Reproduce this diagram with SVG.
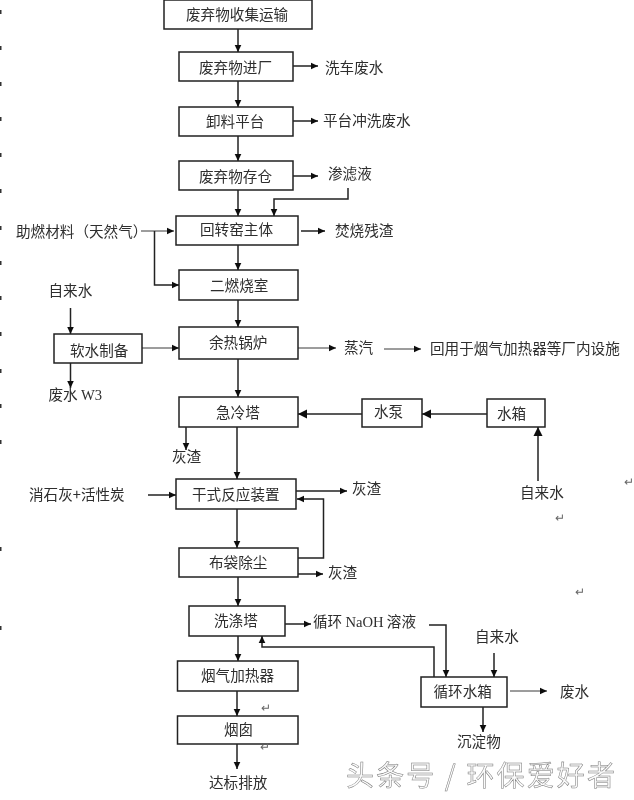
<svg xmlns="http://www.w3.org/2000/svg" width="634" height="800" viewBox="0 0 634 800">
<style>
rect.b{fill:#fff;stroke:#222;stroke-width:1.5}
text{font-family:"Noto Sans CJK SC","Liberation Sans",sans-serif;font-size:14.6px;fill:#2e2e2e}
.c path{fill:none;stroke:#222;stroke-width:1.5}
.c path.a{marker-end:url(#ah)}
.c path.t{stroke-width:.9;marker-end:url(#ah)}
.c path.h{stroke-width:1.5;marker-end:url(#big)}
.l text{font-size:12px;fill:#666}
.wm{font-size:28px;fill:#fafafa;stroke:#777;stroke-width:.5}
.m{fill:#333}
.s{font-family:"Liberation Serif",serif}
</style>
<defs>
<marker id="ah" markerUnits="userSpaceOnUse" markerWidth="8" markerHeight="8" refX="7" refY="4" orient="auto"><path d="M0 .7L7 4L0 7.3z" fill="#111"/></marker>
<marker id="big" markerUnits="userSpaceOnUse" markerWidth="10" markerHeight="10" refX="9" refY="5" orient="auto"><path d="M0 .5L9 5L0 9.500z" fill="#111"/></marker>
<filter id="soft" x="-5%" y="-5%" width="110%" height="110%"><feGaussianBlur stdDeviation="0.5"/></filter>
<filter id="wmf" x="-5%" y="-5%" width="110%" height="110%"><feGaussianBlur stdDeviation="0.2"/></filter>
</defs>
<rect width="634" height="800" fill="#fff"/>
<g filter="url(#soft)">
<g id="connectors" class="c">
<path class="a" d="M238 29V52"/>
<path class="a" d="M238 81V107"/>
<path class="a" d="M238 136V161"/>
<path class="a" d="M238 190V216"/>
<path class="a" d="M238 245V270"/>
<path class="a" d="M238 300V327"/>
<path class="a" d="M238 359V397"/>
<path class="a" d="M293 66H318"/>
<path class="a" d="M293 121H318"/>
<path class="a" d="M293 176H318"/>
<path class="a" d="M348 188V199H274V216"/>
<path class="a" d="M301 231H325"/>
<path class="t" d="M141 231H174"/>
<path class="a" d="M154.500 231V285H179"/>
<path class="a" d="M70.500 308V334"/>
<path class="t" d="M142 348H179"/>
<path class="a" d="M70.500 363V388"/>
<path class="t" d="M298 348H336"/>
<path class="t" d="M384 349H421"/>
<path class="h" d="M487 414H422"/>
<path class="h" d="M362 414H298"/>
<path class="h" d="M538 481V427"/>
<path class="a" d="M186 427V450"/>
<path class="a" d="M237 427V479"/>
<path class="a" d="M148 495H176"/>
<path class="a" d="M296 491H347"/>
<path class="a" d="M298 558H323.500V499H297"/>
<path class="a" d="M237 509V548"/>
<path class="a" d="M298 574H323"/>
<path class="a" d="M238 577V606"/>
<path class="a" d="M285 624H311"/>
<path class="a" d="M429 625H446V677"/>
<path class="a" d="M434 677V647H262V636"/>
<path class="a" d="M494 653V677"/>
<path class="t" d="M510 691H547"/>
<path class="a" d="M483 707V732"/>
<path class="a" d="M238 636V661"/>
<path class="a" d="M237 691V716"/>
<path class="a" d="M237 744V769"/>
</g>
<g id="n1"><rect class="b" x="164" y="0" width="148" height="29"/><text x="186" y="20">废弃物收集运输</text></g>
<g id="n2"><rect class="b" x="179" y="52" width="114" height="29"/><text x="199" y="73">废弃物进厂</text></g>
<g id="n3"><rect class="b" x="179" y="107" width="114" height="29"/><text x="206" y="127">卸料平台</text></g>
<g id="n4"><rect class="b" x="179" y="161" width="114" height="29"/><text x="199" y="182">废弃物存仓</text></g>
<g id="n5"><rect class="b" x="176" y="216" width="122" height="29"/><text x="200" y="235">回转窑主体</text></g>
<g id="n6"><rect class="b" x="179" y="270" width="119" height="30"/><text x="210" y="291">二燃烧室</text></g>
<g id="n7"><rect class="b" x="179" y="327" width="119" height="32"/><text x="209" y="348">余热锅炉</text></g>
<g id="n8"><rect class="b" x="54" y="334" width="88" height="29"/><text x="70" y="356">软水制备</text></g>
<g id="n9"><rect class="b" x="179" y="397" width="119" height="30"/><text x="216" y="418">急冷塔</text></g>
<g id="n10"><rect class="b" x="362" y="399" width="60" height="28"/><text x="374" y="417">水泵</text></g>
<g id="n11"><rect class="b" x="487" y="399" width="58" height="28"/><text x="497" y="419">水箱</text></g>
<g id="n12"><rect class="b" x="176" y="479" width="120" height="30"/><text x="192" y="500">干式反应装置</text></g>
<g id="n13"><rect class="b" x="179" y="548" width="119" height="29"/><text x="209" y="568">布袋除尘</text></g>
<g id="n14"><rect class="b" x="189" y="606" width="96" height="30"/><text x="214" y="626">洗涤塔</text></g>
<g id="n15"><rect class="b" x="177.500" y="661" width="120.500" height="30"/><text x="201" y="681">烟气加热器</text></g>
<g id="n16"><rect class="b" x="177.500" y="716" width="120.500" height="28"/><text x="224" y="735">烟囱</text></g>
<g id="n17"><rect class="b" x="421" y="677" width="86" height="30"/><text x="433.500" y="697">循环水箱</text></g>
<g id="labels">
<text x="325" y="73">洗车废水</text>
<text x="323" y="126">平台冲洗废水</text>
<text x="328" y="179">渗滤液</text>
<text x="335" y="236">焚烧残渣</text>
<text x="16" y="237">助燃材料（天然气）</text>
<text x="48.500" y="296">自来水</text>
<text x="48.500" y="400">废水 <tspan class="s">W3</tspan></text>
<text x="344" y="353">蒸汽</text>
<text x="430" y="354">回用于烟气加热器等厂内设施</text>
<text x="172" y="462">灰渣</text>
<text x="29" y="500">消石灰+活性炭</text>
<text x="352" y="494">灰渣</text>
<text x="520" y="498">自来水</text>
<text x="328" y="578">灰渣</text>
<text x="313" y="627">循环 <tspan class="s">NaOH</tspan> 溶液</text>
<text x="475" y="642">自来水</text>
<text x="560" y="697">废水</text>
<text x="457" y="747">沉淀物</text>
<text x="209" y="788">达标排放</text>
</g>
<g id="marks" class="l">
<text x="624" y="486">↵</text>
<text x="555" y="522">↵</text>
<text x="575" y="596">↵</text>
<text x="261" y="712">↵</text>
<text x="260" y="751">↵</text>
</g>
<g id="edge-ticks" class="m">
<rect x="0" y="10" width="1.500" height="4"/><rect x="0" y="46" width="1.500" height="4"/><rect x="0" y="82" width="1.500" height="4"/><rect x="0" y="117" width="1.500" height="4"/><rect x="0" y="153" width="1.500" height="4"/><rect x="0" y="189" width="1.500" height="4"/><rect x="0" y="226" width="1.500" height="4"/><rect x="0" y="261" width="1.500" height="4"/><rect x="0" y="296" width="1.500" height="4"/><rect x="0" y="332" width="1.500" height="4"/><rect x="0" y="369" width="1.500" height="4"/><rect x="0" y="404" width="1.500" height="4"/><rect x="0" y="440" width="1.500" height="4"/><rect x="0" y="547" width="1.500" height="4"/><rect x="0" y="626" width="1.500" height="4"/>
</g>
</g>
<text class="wm" filter="url(#wmf)" x="346" y="786" textLength="269">头条号 / 环保爱好者</text>
</svg>
